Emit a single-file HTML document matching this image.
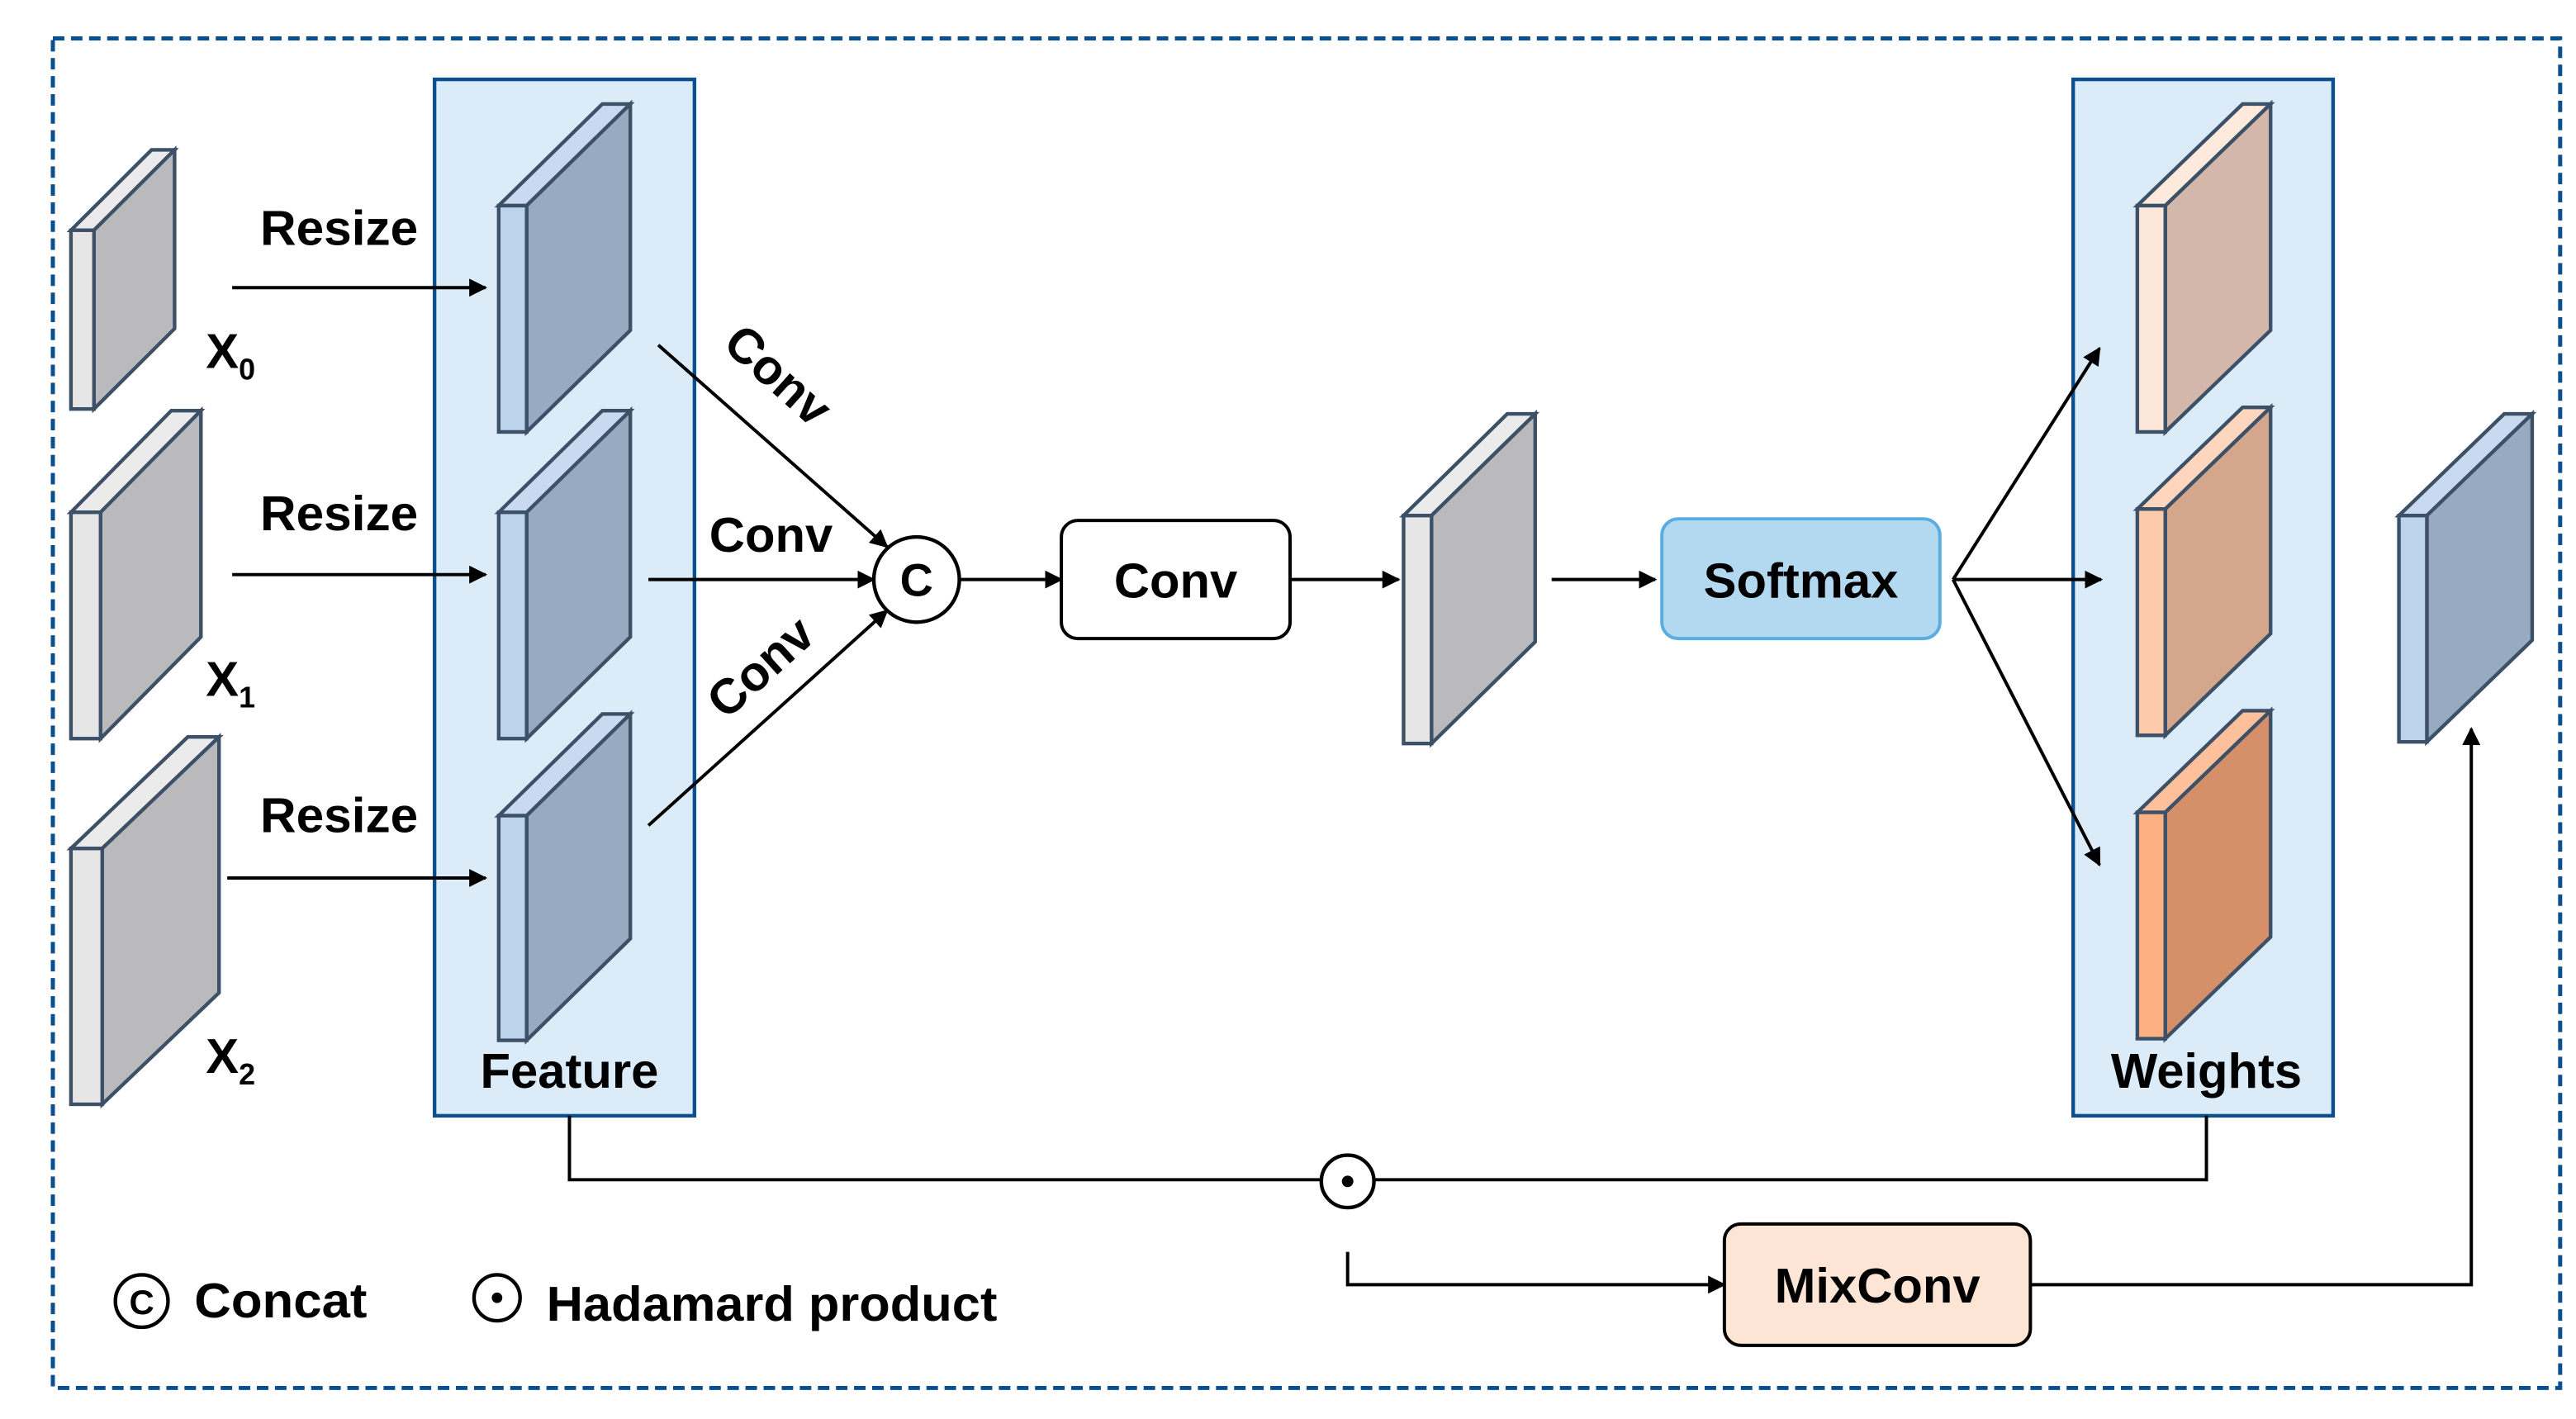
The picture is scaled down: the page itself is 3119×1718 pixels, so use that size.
<!DOCTYPE html>
<html><head><meta charset="utf-8"><style>html,body{margin:0;padding:0;background:#fff}svg{display:block}text{font-family:"Liberation Sans",Arial,sans-serif;font-weight:bold;fill:#000}</style></head>
<body>
<svg width="3119" height="1718" viewBox="0 0 1559.5 859" xmlns="http://www.w3.org/2000/svg">
<defs><marker id="a" viewBox="0 0 10 10" refX="9" refY="5" markerWidth="11" markerHeight="11" markerUnits="userSpaceOnUse" orient="auto"><path d="M0,0L10,5L0,10z" fill="#000"/></marker></defs>
<g transform="matrix(0.996,0,0,0.9927,-0.87,0.4)">
<rect x="33" y="23" width="1524" height="823" fill="none" stroke="#0a4f8f" stroke-width="2.5" stroke-dasharray="7,4"/>
<rect x="265" y="48" width="158" height="632" fill="#dbebf7" stroke="#0a4f8f" stroke-width="2.2"/>
<rect x="1261" y="48" width="158" height="632" fill="#dbebf7" stroke="#0a4f8f" stroke-width="2.2"/>
<g stroke="#3c5068" stroke-width="2.2" stroke-linejoin="miter">
<polygon points="44,140 93,91 107,91 58,140" fill="#ebebeb"/><polygon points="58,140 107,91 107,200 58,249" fill="#bab9bb"/><rect x="44" y="140" width="14" height="109" fill="#e6e6e6"/>
<polygon points="44,312 105,250 123,250 62,312" fill="#ebebeb"/><polygon points="62,312 123,250 123,388 62,450" fill="#bab9bb"/><rect x="44" y="312" width="18" height="138" fill="#e6e6e6"/>
<polygon points="44,517 115,449 134,449 63,517" fill="#ebebeb"/><polygon points="63,517 134,449 134,605 63,673" fill="#bab9bb"/><rect x="44" y="517" width="19" height="156" fill="#e6e6e6"/>
<polygon points="304,125 367,63 384,63 321,125" fill="#c9d9ef"/><polygon points="321,125 384,63 384,201 321,263" fill="#98aabf"/><rect x="304" y="125" width="17" height="138" fill="#bdd3ec"/>
<polygon points="304,312 367,250 384,250 321,312" fill="#c9d9ef"/><polygon points="321,312 384,250 384,388 321,450" fill="#98aabf"/><rect x="304" y="312" width="17" height="138" fill="#bdd3ec"/>
<polygon points="304,497 367,435 384,435 321,497" fill="#c9d9ef"/><polygon points="321,497 384,435 384,572 321,634" fill="#98aabf"/><rect x="304" y="497" width="17" height="137" fill="#bdd3ec"/>
<polygon points="854,314 917,252 934,252 871,314" fill="#ebebeb"/><polygon points="871,314 934,252 934,391 871,453" fill="#bab9bb"/><rect x="854" y="314" width="17" height="139" fill="#e6e6e6"/>
<polygon points="1300,125 1364,63 1381,63 1317,125" fill="#feeadd"/><polygon points="1317,125 1381,63 1381,201 1317,263" fill="#d3b7aa"/><rect x="1300" y="125" width="17" height="138" fill="#fde7da"/>
<polygon points="1300,310 1364,248 1381,248 1317,310" fill="#fdd6bd"/><polygon points="1317,310 1381,248 1381,386 1317,448" fill="#d4a68b"/><rect x="1300" y="310" width="17" height="138" fill="#fccbac"/>
<polygon points="1300,495 1364,433 1381,433 1317,495" fill="#fdc09a"/><polygon points="1317,495 1381,433 1381,571 1317,633" fill="#d58f69"/><rect x="1300" y="495" width="17" height="138" fill="#fdb183"/>
<polygon points="1459,314 1523,252 1540,252 1476,314" fill="#c9d9ef"/><polygon points="1476,314 1540,252 1540,390 1476,452" fill="#98aabf"/><rect x="1459" y="314" width="17" height="138" fill="#bdd3ec"/>
</g>
<g stroke="#000" stroke-width="2" fill="none" marker-end="url(#a)">
<line x1="142" y1="175" x2="296" y2="175"/>
<line x1="142" y1="350" x2="296" y2="350"/>
<line x1="139" y1="535" x2="296" y2="535"/>
<line x1="401" y1="210" x2="540" y2="333"/>
<line x1="395" y1="353" x2="532" y2="353"/>
<line x1="395" y1="503" x2="540" y2="372"/>
<line x1="584" y1="353" x2="646" y2="353"/>
<line x1="786" y1="353" x2="851" y2="353"/>
<line x1="944" y1="353" x2="1007" y2="353"/>
<line x1="1188" y1="353" x2="1277" y2="212"/>
<line x1="1188" y1="353" x2="1278" y2="353"/>
<line x1="1188" y1="353" x2="1277" y2="527"/>
<polyline points="820,763 820,783 1049,783"/>
<polyline points="1235,783 1503,783 1503,444"/>
</g>
<polyline points="347,680 347,719 804,719" fill="none" stroke="#000" stroke-width="2"/>
<polyline points="836,719 1342,719 1342,680" fill="none" stroke="#000" stroke-width="2"/>
<circle cx="558" cy="353" r="26" fill="#fff" stroke="#000" stroke-width="2.2"/>
<text x="558" y="363" font-size="28" text-anchor="middle">C</text>
<circle cx="820" cy="720" r="16" fill="#fff" stroke="#000" stroke-width="2.2"/>
<circle cx="820" cy="720" r="3.5" fill="#000"/>
<rect x="646" y="317" width="139" height="72" rx="10" fill="#fff" stroke="#000" stroke-width="2"/>
<text x="715.5" y="364" font-size="30" text-anchor="middle">Conv</text>
<rect x="1011" y="316" width="169" height="73" rx="10" fill="#b3d9f0" stroke="#5aaedf" stroke-width="2"/>
<text x="1095.5" y="364" font-size="30" text-anchor="middle">Softmax</text>
<rect x="1049" y="746" width="186" height="74" rx="10" fill="#fde5d6" stroke="#000" stroke-width="2"/>
<text x="1142" y="794" font-size="30" text-anchor="middle">MixConv</text>
<g font-size="30">
<text x="159" y="149" textLength="96" lengthAdjust="spacingAndGlyphs">Resize</text>
<text x="159" y="323" textLength="96" lengthAdjust="spacingAndGlyphs">Resize</text>
<text x="159" y="507" textLength="96" lengthAdjust="spacingAndGlyphs">Resize</text>
<text x="432" y="336">Conv</text>
<text transform="translate(467,236) rotate(42)" text-anchor="middle">Conv</text>
<text transform="translate(470,414) rotate(-42)" text-anchor="middle">Conv</text>
<text x="126" y="224">X<tspan font-size="18" dy="7">0</tspan></text>
<text x="126" y="424">X<tspan font-size="18" dy="7">1</tspan></text>
<text x="126" y="654">X<tspan font-size="18" dy="7">2</tspan></text>
<text x="347" y="663" text-anchor="middle">Feature</text>
<text x="1342" y="663" text-anchor="middle">Weights</text>
<text x="119" y="803" textLength="105" lengthAdjust="spacingAndGlyphs">Concat</text>
<text x="333" y="805" textLength="274" lengthAdjust="spacingAndGlyphs">Hadamard product</text>
</g>
<circle cx="87" cy="793" r="16" fill="#fff" stroke="#000" stroke-width="2.2"/>
<text x="87" y="801" font-size="21" text-anchor="middle">C</text>
<circle cx="303" cy="791" r="14" fill="#fff" stroke="#000" stroke-width="2.2"/>
<circle cx="303" cy="791" r="3.2" fill="#000"/>
</g>
</svg>
</body></html>
